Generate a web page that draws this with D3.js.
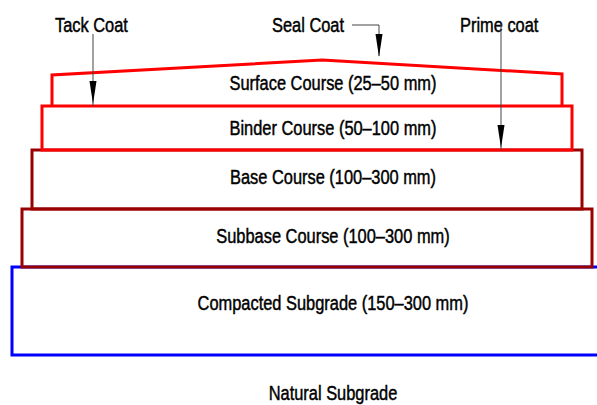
<!DOCTYPE html>
<html>
<head>
<meta charset="utf-8">
<script src="https://cdn.jsdelivr.net/npm/d3@7"></script>
<style>
  body { margin: 0; background: #fff; }
  text { font-family: "Liberation Sans", Arial, sans-serif; font-size: 20px; fill: #000; stroke: #000; stroke-width: 0.45px; }
</style>
</head>
<body>
<svg id="chart" width="597" height="405"></svg>
<script>
// pavement layers, top to bottom
var layerNames = ["Surface Course", "Binder Course", "Base Course", "Subbase Course", "Compacted Subgrade"];
var layerRanges = ["25–50 mm", "50–100 mm", "100–300 mm", "100–300 mm", "150–300 mm"];
// thickness of each layer in drawing units
var layerThickness = [31, 44, 59, 58, 88];
// where the label sits inside each layer (0 = top, 1 = bottom)
var labelPos = [0.26, 0.5, 0.46, 0.47, 0.41];
// crown of the surface: [fraction across, rise]
var crown = [[0, 0], [0.53, 15], [1, 1]];
// coat callouts
var coatNames = ["Tack Coat", "Seal Coat", "Prime coat"];

var width = 597, height = 405;
var svg = d3.select("#chart");

var edges = [0];
layerThickness.forEach(function (t, i) { edges.push(edges[i] + t); });

var y = d3.scaleLinear().domain([0, d3.sum(layerThickness)]).range([75, 355]);
// each layer steps out by one unit on both sides
var xLeft = d3.scaleLinear().domain([0, 4]).range([52, 12]);
var xRight = d3.scaleLinear().domain([0, 4]).range([562, 602]);
var rise = d3.scaleLinear().domain([0, 15]).range([0, 15]);

var colors = ["#ff0000", "#ff0000", "#990000", "#990000", "#0000ff"];

// draw bottom layers first so upper outlines sit on top
var layerG = svg.append("g");
for (var i = layerNames.length - 1; i >= 0; i--) {
    var x0 = xLeft(i), x1 = xRight(i), y0 = y(edges[i]), y1 = y(edges[i + 1]);
    var pts;
    if (i == 0) {
        pts = [[x0, y1]].concat(crown.map(function (c) {
            return [x0 + c[0] * (x1 - x0), y0 - rise(c[1])];
        })).concat([[x1, y1]]);
        layerG.append("path")
            .attr("d", d3.line()(pts))
            .attr("fill", "none").attr("stroke", colors[i]).attr("stroke-width", 3);
    } else if (i == layerNames.length - 1) {
        pts = [[width, y0], [x0, y0], [x0, y1], [width, y1]];
        layerG.append("path")
            .attr("d", d3.line()(pts))
            .attr("fill", "none").attr("stroke", colors[i]).attr("stroke-width", 3);
    } else {
        layerG.append("rect")
            .attr("x", x0).attr("y", y0)
            .attr("width", x1 - x0).attr("height", y1 - y0)
            .attr("fill", "none").attr("stroke", colors[i]).attr("stroke-width", 3);
    }
}

// layer labels
svg.append("g").selectAll("text")
    .data(layerNames)
    .join("text")
    .attr("x", 333)
    .attr("y", function (d, i) { return y(edges[i] + labelPos[i] * layerThickness[i]); })
    .attr("text-anchor", "middle")
    .attr("dominant-baseline", "central")
    .text(function (d, i) { return d + " (" + layerRanges[i] + ")"; });

svg.append("text")
    .attr("x", 333).attr("y", 400)
    .attr("text-anchor", "middle")
    .text("Natural Subgrade");

// coat labels
svg.append("text").attr("x", 55).attr("y", 32).text(coatNames[0]);
svg.append("text").attr("x", 272).attr("y", 32).text(coatNames[1]);
svg.append("text").attr("x", 460).attr("y", 32).text(coatNames[2]);

// squeeze all text to a narrow face
svg.selectAll("text").each(function () {
    var len = this.getComputedTextLength();
    d3.select(this).attr("textLength", len * 0.82).attr("lengthAdjust", "spacingAndGlyphs");
});

// arrows
var arrows = svg.append("g");
function arrow(path, tipX, tipY) {
    arrows.append("path")
        .attr("d", d3.line()(path))
        .attr("fill", "none").attr("stroke", "#444").attr("stroke-width", 1);
    arrows.append("path")
        .attr("d", d3.line()([[tipX - 3.5, tipY - 23], [tipX + 3.5, tipY - 23], [tipX, tipY]]) + "Z")
        .attr("fill", "#000");
}
arrow([[93, 34], [93, y(edges[1])]], 93, y(edges[1]) - 2);
arrow([[352, 25], [379, 25], [379, 56]], 379, 57);
arrow([[501, 24], [501, y(edges[2])]], 501, y(edges[2]) - 2);
</script>
</body>
</html>
